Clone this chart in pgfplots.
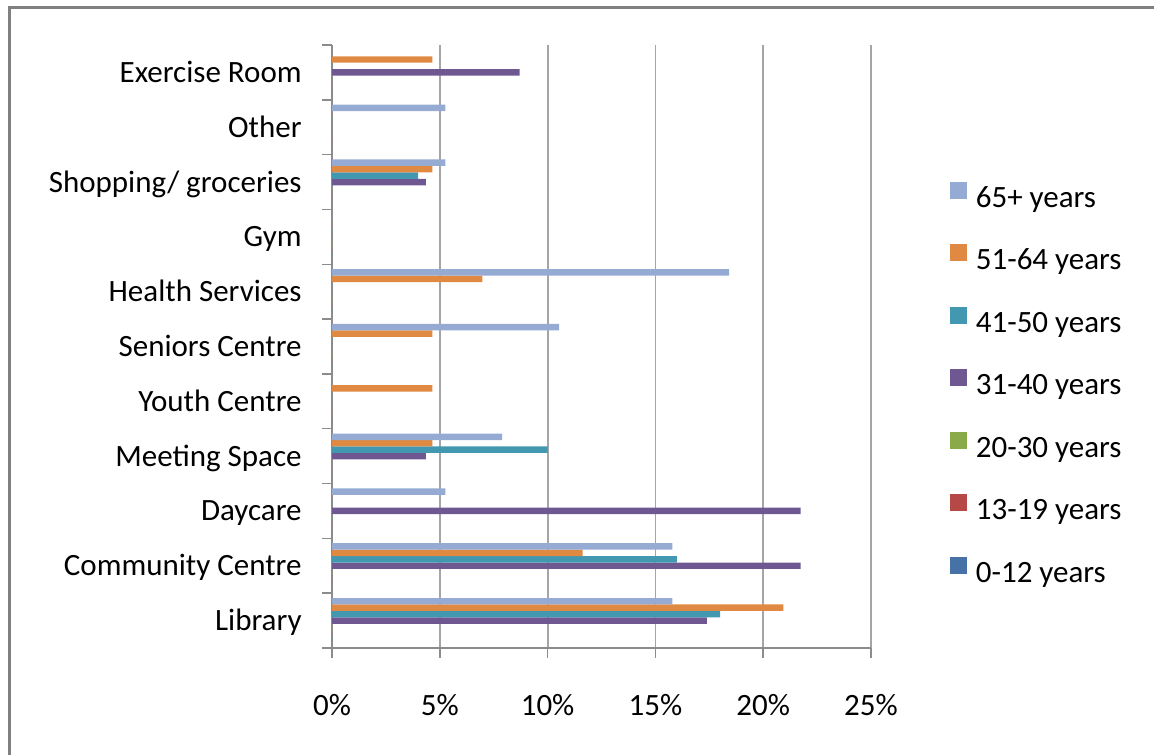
\documentclass[border=0pt]{standalone}
\usepackage{fontspec}
\setmainfont{Carlito}
\usepackage{pgfplots}
\pgfplotsset{compat=1.18}

\definecolor{cA}{RGB}{70,114,167}   % 0-12
\definecolor{cB}{RGB}{182,72,69}    % 13-19
\definecolor{cC}{RGB}{138,170,74}   % 20-30
\definecolor{cD}{RGB}{111,88,145}   % 31-40
\definecolor{cE}{RGB}{66,152,176}   % 41-50
\definecolor{cF}{RGB}{224,137,66}   % 51-64
\definecolor{cG}{RGB}{149,171,212}  % 65+
\definecolor{gridgray}{RGB}{165,165,165}
\definecolor{axisgray}{RGB}{140,140,140}
\definecolor{framegray}{RGB}{128,128,128}

\begin{document}
\fontsize{15.5}{18}\selectfont
\begin{tikzpicture}
\path[use as bounding box] (0pt,0pt) rectangle (577pt,377.5pt);
\draw[framegray, line width=1.5pt] (4.75pt,0pt) -- (4.75pt,373.75pt) -- (580pt,373.75pt);
\begin{axis}[
    at={(166pt,53.5pt)}, anchor=south west,
    scale only axis, width=269.5pt, height=301.5pt,
    xbar, bar width=0.1176,
    xmin=0, xmax=25, ymin=-0.5, ymax=10.5,
    axis x line=bottom, axis y line=left,
    axis line style={-, axisgray, line width=0.75pt},
    xtick={0,5,...,25},
    xmajorgrids, grid style={gridgray, line width=0.9pt},
    xticklabel={\pgfmathprintnumber{\tick}\%},
    /pgf/number format/assume math mode=true,
    xticklabel style={anchor=base, inner sep=0pt, yshift=-28.5pt},
    ytick={0,...,10},
    yticklabels={Library, Community Centre, Daycare, Meeting Space, Youth Centre,
        Seniors Centre, Health Services, Gym, Shopping/ groceries, Other, Exercise Room},
    yticklabel style={anchor=base east, inner sep=0pt, xshift=-10pt, yshift=-5pt},
    tick align=outside, major tick length=5pt,
    x tick style={draw=axisgray, line width=0.75pt},
    y tick style={draw=none},
    extra y ticks={-0.5,0.5,...,10.5}, extra y tick labels={},
    extra y tick style={y tick style={draw=axisgray, line width=0.75pt}},
    reverse legend,
    legend cell align=left,
    legend image code/.code={\fill[#1, draw=none] (0pt,0.75pt) rectangle (8.5pt,9.25pt);},
    legend style={draw=none, fill=none, inner sep=0pt, at={(1.1466,0.436)}, anchor=west,
        nodes={inner sep=0pt, text height=10pt, text depth=3.2pt},
        /tikz/row sep=15.4pt, /tikz/column sep=4.2pt},
]
\addplot[fill=cA, draw=none, bar shift=-0.353] coordinates {
    (0,0) (0,1) (0,2) (0,3) (0,4) (0,5) (0,6) (0,7) (0,8) (0,9) (0,10)};
\addlegendentry{0-12 years}
\addplot[fill=cB, draw=none, bar shift=-0.235] coordinates {
    (0,0) (0,1) (0,2) (0,3) (0,4) (0,5) (0,6) (0,7) (0,8) (0,9) (0,10)};
\addlegendentry{13-19 years}
\addplot[fill=cC, draw=none, bar shift=-0.118] coordinates {
    (0,0) (0,1) (0,2) (0,3) (0,4) (0,5) (0,6) (0,7) (0,8) (0,9) (0,10)};
\addlegendentry{20-30 years}
\addplot[fill=cD, draw=none, bar shift=0] coordinates {
    (17.39,0) (21.74,1) (21.74,2) (4.35,3) (0,4) (0,5) (0,6) (0,7) (4.35,8) (0,9) (8.70,10)};
\addlegendentry{31-40 years}
\addplot[fill=cE, draw=none, bar shift=0.118] coordinates {
    (18,0) (16,1) (0,2) (10,3) (0,4) (0,5) (0,6) (0,7) (4,8) (0,9) (0,10)};
\addlegendentry{41-50 years}
\addplot[fill=cF, draw=none, bar shift=0.235] coordinates {
    (20.93,0) (11.63,1) (0,2) (4.65,3) (4.65,4) (4.65,5) (6.98,6) (0,7) (4.65,8) (0,9) (4.65,10)};
\addlegendentry{51-64 years}
\addplot[fill=cG, draw=none, bar shift=0.353] coordinates {
    (15.79,0) (15.79,1) (5.26,2) (7.89,3) (0,4) (10.53,5) (18.42,6) (0,7) (5.26,8) (5.26,9) (0,10)};
\addlegendentry{65+ years}
\end{axis}
\end{tikzpicture}
\end{document}
